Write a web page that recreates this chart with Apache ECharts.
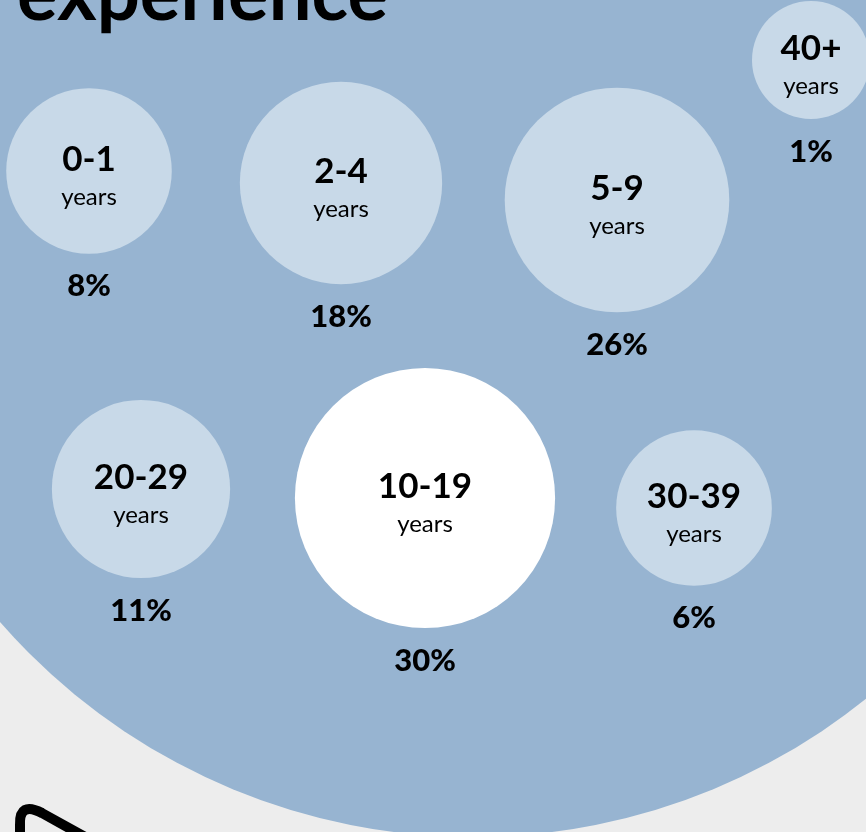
<!DOCTYPE html>
<html>
<head>
<meta charset="utf-8">
<title>experience</title>
<script src="https://cdn.jsdelivr.net/npm/echarts@6/dist/echarts.min.js"></script>
<style>
  html, body { margin: 0; padding: 0; background: #ededed; }
  #chart { width: 866px; height: 832px; }
</style>
</head>
<body>
<div id="chart"></div>
<script>
// years of experience, share of respondents
const ranges = ['0-1', '2-4', '5-9', '40+', '20-29', '10-19', '30-39']
const shares = [8, 18, 26, 1, 11, 30, 6]
// bubble layout (plot units = pixels of the 866x832 canvas)
const xPos = [89, 341, 617, 811, 141, 425, 694]
const yPos = [171, 183, 200, 60, 489, 498, 508]
const unitLabel = 'years'

const font = 'Lato, "Open Sans", sans-serif'
const maxShare = Math.max(...shares)
// the largest group is drawn a bit bigger to stand out
const bubbleSize = (v) => (92 + 26 * Math.sqrt(v[2])) * (v[2] === maxShare ? 1.11 : 1)

const points = ranges.map((r, i) => [xPos[i], yPos[i], shares[i], r])

const chart = echarts.init(document.getElementById('chart'))
chart.setOption({
  backgroundColor: '#ededed',
  animation: false,
  grid: { left: 0, right: 0, top: 0, bottom: 0 },
  xAxis: { type: 'value', min: 0, max: 866, show: false },
  yAxis: { type: 'value', min: 0, max: 832, inverse: true, show: false },
  graphic: [
    {
      type: 'circle',
      z: -10,
      shape: { cx: 473, cy: 209, r: 628 },
      style: { fill: '#97b4d1' }
    },
    // black hook in the lower left corner
    {
      type: 'polyline',
      z: -5,
      shape: { points: [[20, 850], [20, 824]] },
      style: { stroke: '#000', lineWidth: 10 }
    },
    {
      type: 'bezierCurve',
      z: -5,
      shape: { x1: 20, y1: 825, cpx1: 19, cpy1: 801, x2: 42, y2: 813 },
      style: { fill: 'none', stroke: '#000', lineWidth: 10 }
    },
    {
      type: 'line',
      z: -5,
      shape: { x1: 41, y1: 812.5, x2: 105, y2: 848 },
      style: { stroke: '#000', lineWidth: 10 }
    },
    {
      type: 'text',
      z: 50,
      x: 17,
      y: -5,
      style: {
        text: 'experience',
        font: 'bold 76px ' + font,
        fill: '#000',
        verticalAlign: 'middle'
      }
    }
  ],
  series: [
    {
      type: 'scatter',
      data: points,
      symbol: 'circle',
      symbolSize: bubbleSize,
      itemStyle: {
        opacity: 1,
        color: (p) => (p.data[2] === maxShare ? '#ffffff' : '#c8d9e8')
      },
      label: {
        show: true,
        position: 'inside',
        offset: [0, 7],
        formatter: (p) => '{a|' + p.data[3] + '}\n{b|' + unitLabel + '}',
        rich: {
          a: { fontFamily: font, fontWeight: 'bold', fontSize: 35, lineHeight: 38, color: '#000' },
          b: { fontFamily: font, fontSize: 24, lineHeight: 36, color: '#000' }
        }
      },
      emphasis: { disabled: true }
    },
    {
      type: 'scatter',
      data: points,
      symbol: 'circle',
      symbolSize: bubbleSize,
      silent: true,
      itemStyle: { color: 'rgba(0,0,0,0)' },
      label: {
        show: true,
        position: 'bottom',
        distance: 17,
        formatter: (p) => p.data[2] + '%',
        fontFamily: font,
        fontWeight: 900,
        fontSize: 31,
        color: '#000',
        opacity: 1
      },
      emphasis: { disabled: true }
    }
  ]
})
</script>
</body>
</html>
